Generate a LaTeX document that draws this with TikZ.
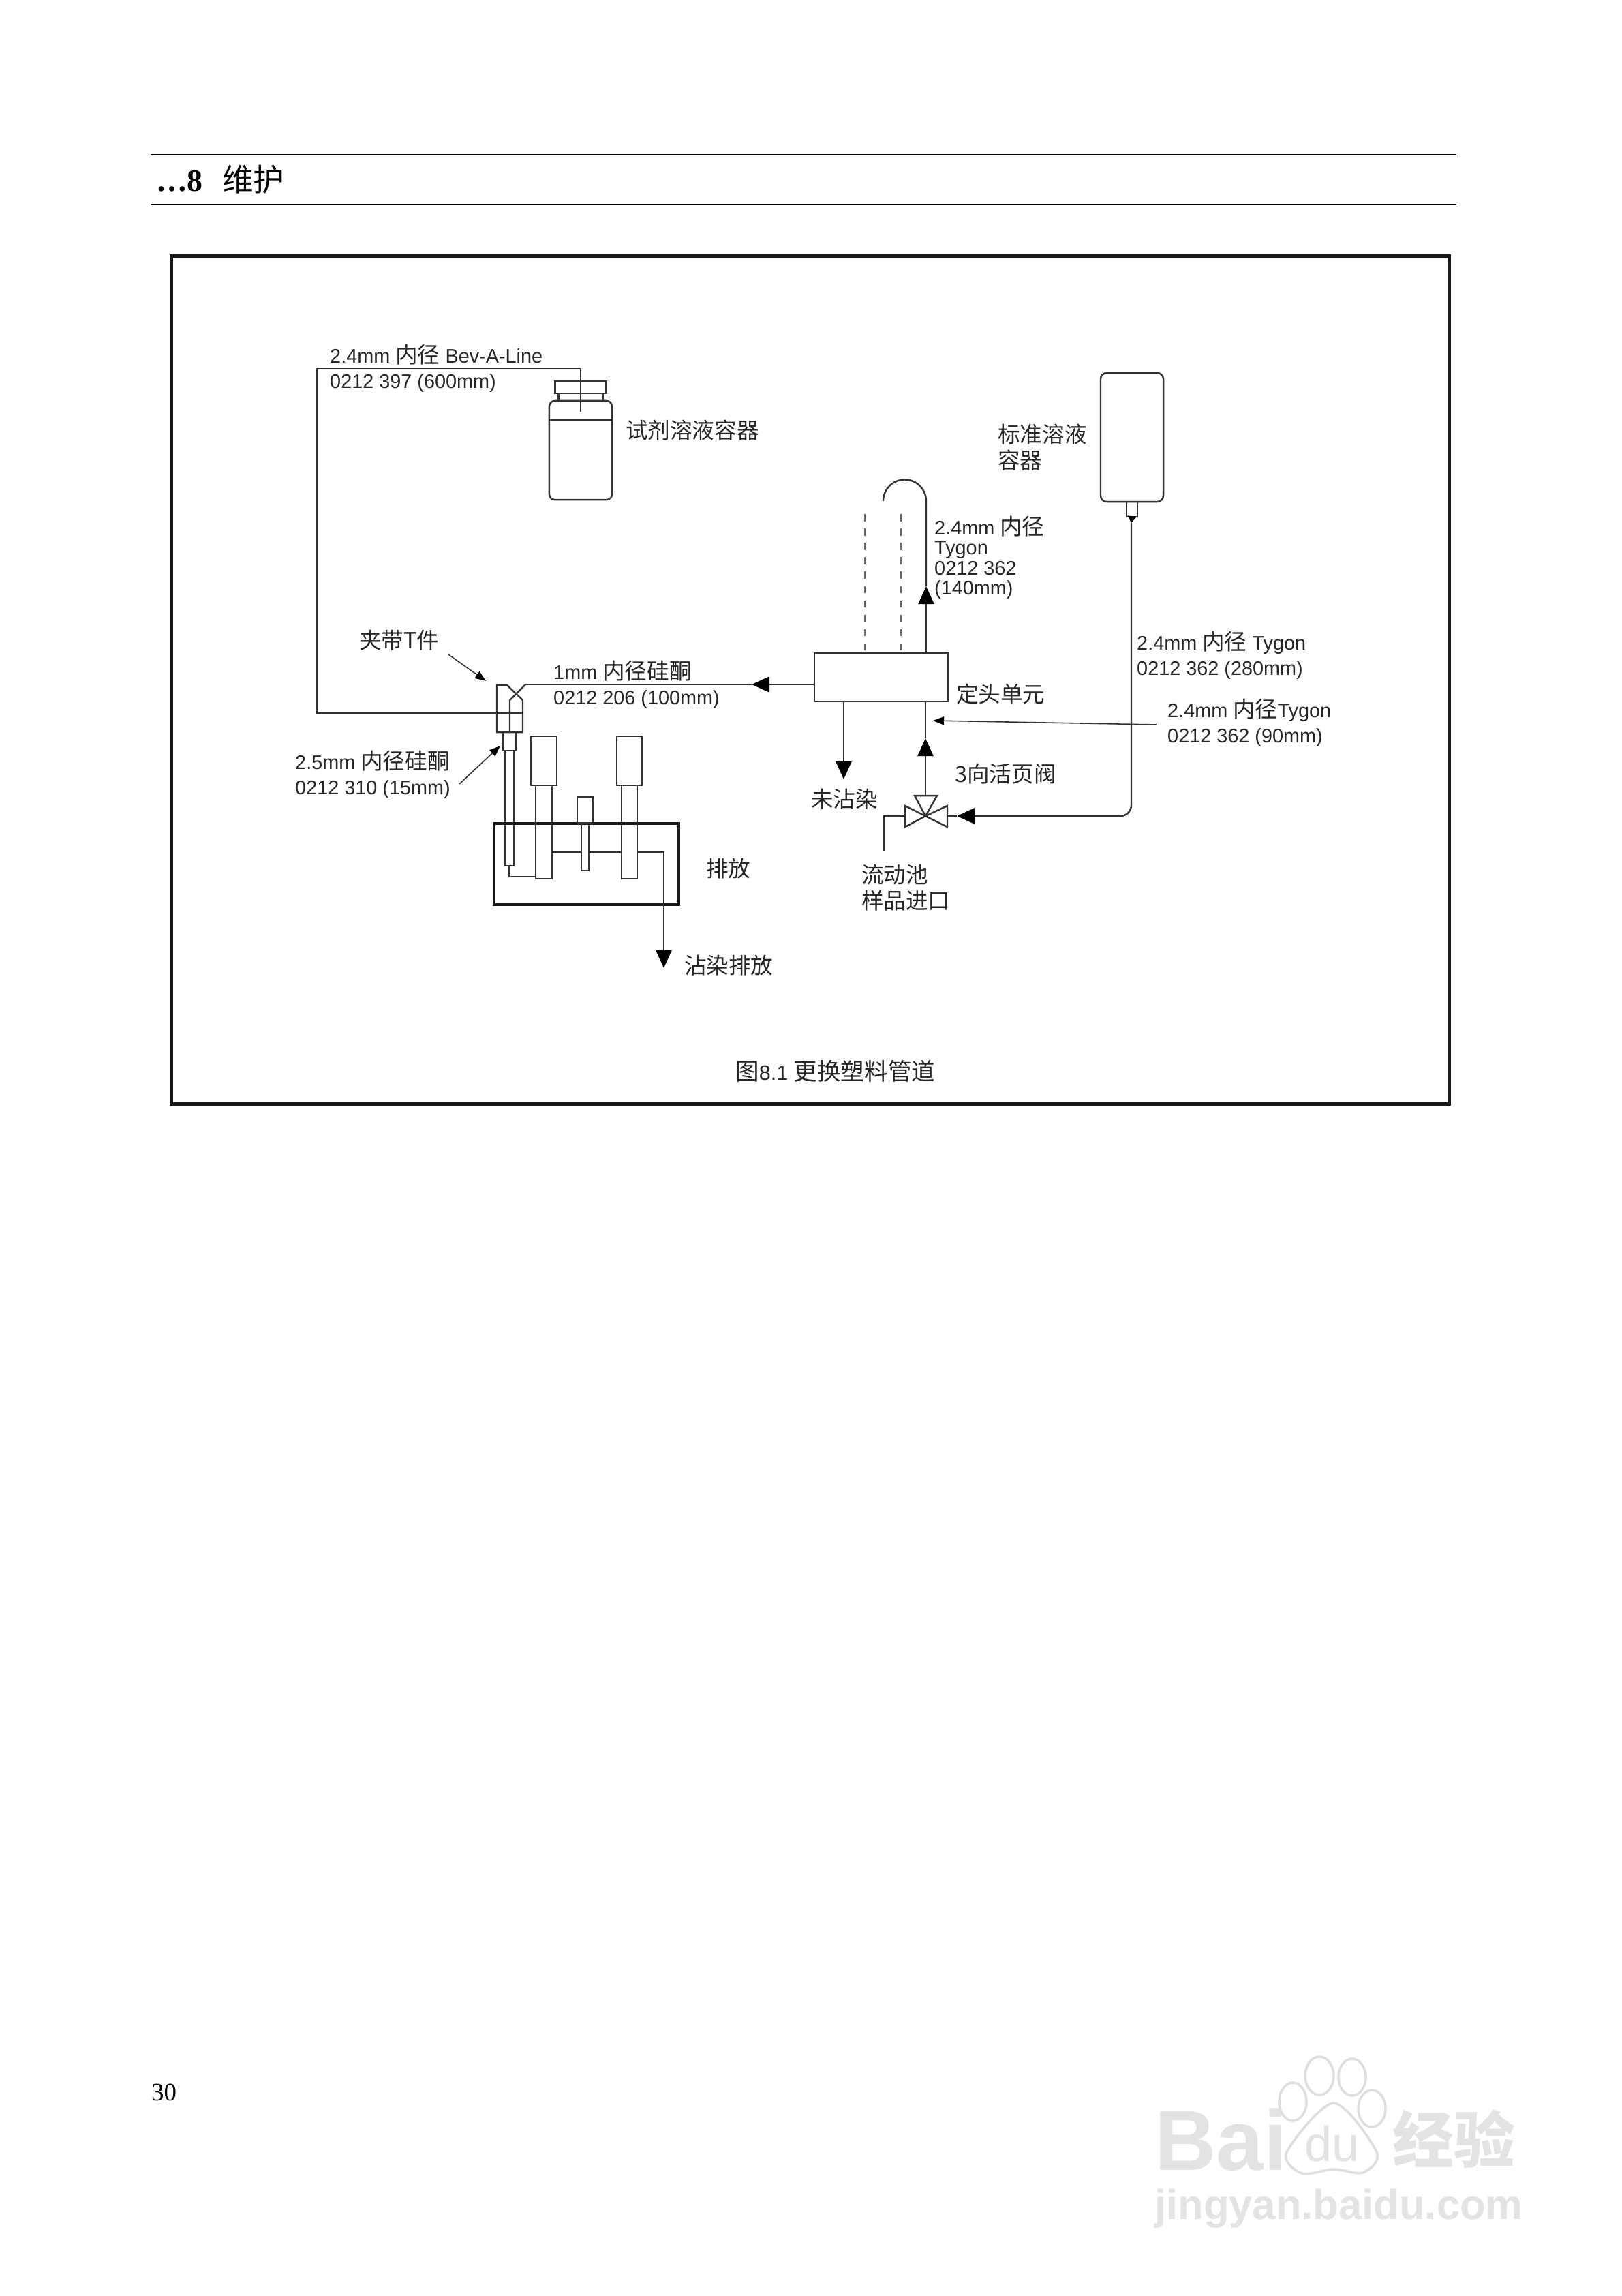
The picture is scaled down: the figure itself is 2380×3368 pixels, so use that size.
\documentclass[tikz,border=0pt]{standalone}
\usepackage{fontspec}
\setmainfont{Liberation Serif}
\setsansfont{Liberation Sans}
\newfontfamily\cjk{Noto Sans CJK SC}[Scale=1.13]
\usepackage{tikz}
\usetikzlibrary{arrows.meta,positioning}

\begin{document}
\begin{tikzpicture}[x=0.01cm, y=-0.01cm, line width=0.7pt, draw=black!80,
  part/.style={draw, inner sep=0pt, outer sep=0pt},
  tag/.style={inner sep=0pt, anchor=base west, align=left, text=black!85, font=\sffamily\fontsize{8.2}{10.4}\selectfont},
  cntag/.style={inner sep=0pt, anchor=west, align=left, text=black!85, font=\cjk\fontsize{8.2}{10.8}\selectfont},
  flow/.style={-{Triangle[length=0.26cm,width=0.23cm,black]}},
  leader/.style={line width=0.45pt, -{Triangle[length=0.16cm,width=0.12cm,black]}},
  logotext/.style={inner sep=0pt, anchor=base west, text=black!11}]
  \useasboundingbox (0,0) rectangle (2380,3368);

  % page
  \coordinate (ruleA) at (221,227);
  \coordinate (ruleB) at (2137,227);
  \coordinate (ruleC) at (221,300);
  \coordinate (ruleD) at (2137,300);
  \draw[black, line width=0.5pt] (ruleA) -- (ruleB) (ruleC) -- (ruleD);
  \node[inner sep=0pt, anchor=base west, font=\rmfamily\bfseries\fontsize{13}{16}\selectfont] (chapter) at (228,280) {…8};
  \node[inner sep=0pt, anchor=base west, font=\cjk\fontsize{11.5}{13}\selectfont] (chaptitle) at (325,280) {维护};
  \node[inner sep=0pt, anchor=base west, font=\rmfamily\fontsize{10.5}{12}\selectfont] (pageno) at (221,3081) {30};
  \node[part, line width=1.45pt, draw=black!90, minimum width=18.74cm, minimum height=12.43cm] (frame) at (1189,997.5) {};
  \node[tag, font=\sffamily\fontsize{8.7}{10}\selectfont] (caption) at (1078,1584) {{\cjk 图}8.1 {\cjk 更换塑料管道}};

  % reagent bottle
  \node[part, rounded corners=0.08cm, minimum width=0.92cm, minimum height=1.45cm] (reagent) at (852,660.5) {};
  \node[part, minimum width=0.65cm, minimum height=0.11cm, above=0pt of reagent] (neck) {};
  \node[part, minimum width=0.75cm, minimum height=0.18cm, above=0pt of neck] (cap) {};
  \draw (reagent.west |- 0,616) -- (reagent.east |- 0,616);
  \node[cntag] (reagentlbl) at (917,631) {试剂溶液容器};

  % standard bottle
  \node[part, rounded corners=0.09cm, minimum width=0.92cm, minimum height=1.89cm] (standard) at (1661,641.5) {};
  \node[part, minimum width=0.16cm, minimum height=0.22cm, below=0pt of standard] (nipple) {};
  \node[cntag] (standardlbl) at (1463,656) {标准溶液\\容器};

  % tee piece
  \coordinate (teeA) at (729,1074);
  \coordinate (teeB) at (729,1005);
  \coordinate (teeC) at (744,1005);
  \coordinate (teeD) at (767,1027);
  \coordinate (teeE) at (767,1074);
  \coordinate (teeF) at (771,1004);
  \coordinate (teeG) at (748,1027);
  \coordinate (teeH) at (748,1074);
  \draw (teeA) -- (teeB) -- (teeC) -- (teeD) -- (teeE) -- cycle;
  \draw (teeF) -- (teeG) -- (teeH);
  \node[part, minimum width=0.19cm, minimum height=0.27cm] (collar) at (747.5,1087.5) {};
  \node[part, minimum width=0.13cm, minimum height=1.69cm, below=0pt of collar] (needle) {};

  % drain block
  \node[part, line width=1pt, draw=black!90, minimum width=2.71cm, minimum height=1.19cm] (drain) at (860.5,1267.5) {};
  \node[part, minimum width=0.38cm, minimum height=0.72cm] (pumpA) at (798,1116) {};
  \node[part, minimum width=0.24cm, minimum height=1.37cm, below=0pt of pumpA] (stemA) {};
  \node[part, minimum width=0.37cm, minimum height=0.72cm] (pumpB) at (923.5,1116) {};
  \node[part, minimum width=0.23cm, minimum height=1.37cm, below=0pt of pumpB] (stemB) {};
  \node[part, minimum width=0.23cm, minimum height=0.38cm] (plug) at (858.5,1188) {};
  \node[part, minimum width=0.11cm, minimum height=0.70cm, below=0pt of plug] (rod) {};
  \coordinate (drainY) at (0,1250);
  \coordinate (loop) at (786,1286);
  \coordinate (drainOut) at (974,1420);
  \draw (needle.south) |- (loop);
  \draw (stemA.east |- drainY) -- (rod.west |- drainY);
  \draw (rod.east |- drainY) -- (stemB.west |- drainY);
  \draw[flow] (stemB.east |- drainY) -| (drainOut);

  % head unit
  \node[part, minimum width=1.96cm, minimum height=0.71cm] (unit) at (1293,993.5) {};
  \node[cntag] (unitlbl) at (1402,1018) {定头单元};

  % valve
  \coordinate (valve) at (1358,1197);
  \draw (valve) -- ++(-30,-15) -- ++(0,31) -- cycle;
  \draw (valve) -- ++(32,-15) -- ++(0,31) -- cycle;
  \draw (valve) -- ++(-16,-30) -- ++(33,0) -- cycle;
  \coordinate (valveTop) at (1358,1167);
  \coordinate (valveIn) at (1404,1197);
  \coordinate (valveEast) at (1390,1197);
  \coordinate (valveWest) at (1328,1197);
  \coordinate (sampleIn) at (1297,1248);

  % tubing
  \coordinate (cornerA) at (465,1046);
  \coordinate (cornerB) at (465,541);
  \coordinate (dip) at (852,604);
  \coordinate (teeIn) at (767,1046);
  \coordinate (unitOut) at (1195,1004);
  \coordinate (midOut) at (1103,1004);
  \coordinate (unitUp) at (1359,958);
  \coordinate (midUp) at (1359,860);
  \coordinate (archEnd) at (1359,735);
  \coordinate (unitDown) at (1238,1029);
  \coordinate (clean) at (1238,1143);
  \coordinate (unitIn) at (1358,1029);
  \coordinate (midIn) at (1358,1083);
  \coordinate (nippleTip) at (1660,767);
  \draw (teeIn) -- (cornerA) -- (cornerB) -| (dip);
  \draw[flow] (unitOut) -- (midOut);
  \draw (midOut) -- (teeF);
  \draw[flow] (unitUp) -- (midUp);
  \draw (midUp) -- (archEnd) arc[start angle=0, end angle=180, radius=0.315cm];
  \draw[flow] (unitDown) -- (clean);
  \draw[flow] (valveTop) -- (midIn);
  \draw (midIn) -- (unitIn);
  \draw[-{Triangle[length=0.1cm,width=0.13cm,black]}] (nipple.south) -- (nippleTip);
  \draw[rounded corners=0.16cm, flow] (nippleTip) |- (valveIn);
  \draw (valveIn) -- (valveEast);
  \draw (valveWest) -| (sampleIn);
  \coordinate (dashA) at (1269,754);
  \coordinate (dashB) at (1322,754);
  \foreach \a in {dashA, dashB} {\draw[dashed, line width=0.5pt, draw=black!60] (\a) -- ++(0,200);}

  % leaders
  \coordinate (clampFrom) at (658,960);
  \coordinate (clampTo) at (713,999);
  \coordinate (collarFrom) at (674,1150);
  \coordinate (collarTo) at (734,1094);
  \coordinate (feedFrom) at (1697,1063);
  \coordinate (feedTo) at (1369,1057);
  \foreach \a/\b in {clampFrom/clampTo, collarFrom/collarTo, feedFrom/feedTo} {\draw[leader] (\a) -- (\b);}

  % labels
  \node[tag] (bevlbl) at (483,569) {2.4mm {\cjk 内径} Bev-A-Line\\0212 397 (600mm)};
  \node[tag] (sililbl) at (811,1033) {1mm {\cjk 内径硅酮}\\0212 206 (100mm)};
  \node[tag] (collarlbl) at (432,1165) {2.5mm {\cjk 内径硅酮}\\0212 310 (15mm)};
  \node[tag, font=\sffamily\fontsize{8.2}{8.25}\selectfont] (archlbl) at (1370,872) {2.4mm {\cjk 内径}\\Tygon\\0212 362\\(140mm)};
  \node[tag] (longlbl) at (1667,990) {2.4mm {\cjk 内径} Tygon\\0212 362 (280mm)};
  \node[tag] (feedlbl) at (1712,1089) {2.4mm {\cjk 内径}Tygon\\0212 362 (90mm)};
  \node[cntag] (clamplbl) at (526,939) {夹带T件};
  \node[cntag] (drainlbl) at (1035,1274) {排放};
  \node[cntag] (wastelbl) at (1003,1416) {沾染排放};
  \node[cntag] (cleanlbl) at (1189,1172) {未沾染};
  \node[cntag] (valvelbl) at (1400,1135) {3向活页阀};
  \node[cntag] (samplelbl) at (1263,1302) {流动池\\样品进口};

  % baidu mark
  \node[logotext, font=\sffamily\bfseries\fontsize{35.6}{36}\selectfont] (markbai) at (1693,3183) {Bai};
  \node[logotext, font=\sffamily\fontsize{20.6}{21}\selectfont] (markdu) at (1913,3170) {du};
  \node[logotext, font=\cjk\bfseries\fontsize{22.6}{23}\selectfont] (markjy) at (2042,3172) {经验};
  \node[logotext, font=\sffamily\bfseries\fontsize{17.5}{18}\selectfont] (markurl) at (1693,3255) {jingyan.baidu.com};
  \draw[black!13, line width=1pt] (1897,3083) ellipse[x radius=0.2cm, y radius=0.28cm]
    (1936,3045) ellipse[x radius=0.21cm, y radius=0.28cm]
    (1984,3047) ellipse[x radius=0.2cm, y radius=0.27cm]
    (2013,3093) ellipse[x radius=0.2cm, y radius=0.27cm];
  \draw[black!13, line width=1pt] plot[smooth cycle] coordinates {(1957,3085) (2020,3157) (2000,3187) (1957,3182) (1910,3188) (1888,3157)};
\end{tikzpicture}
\end{document}
